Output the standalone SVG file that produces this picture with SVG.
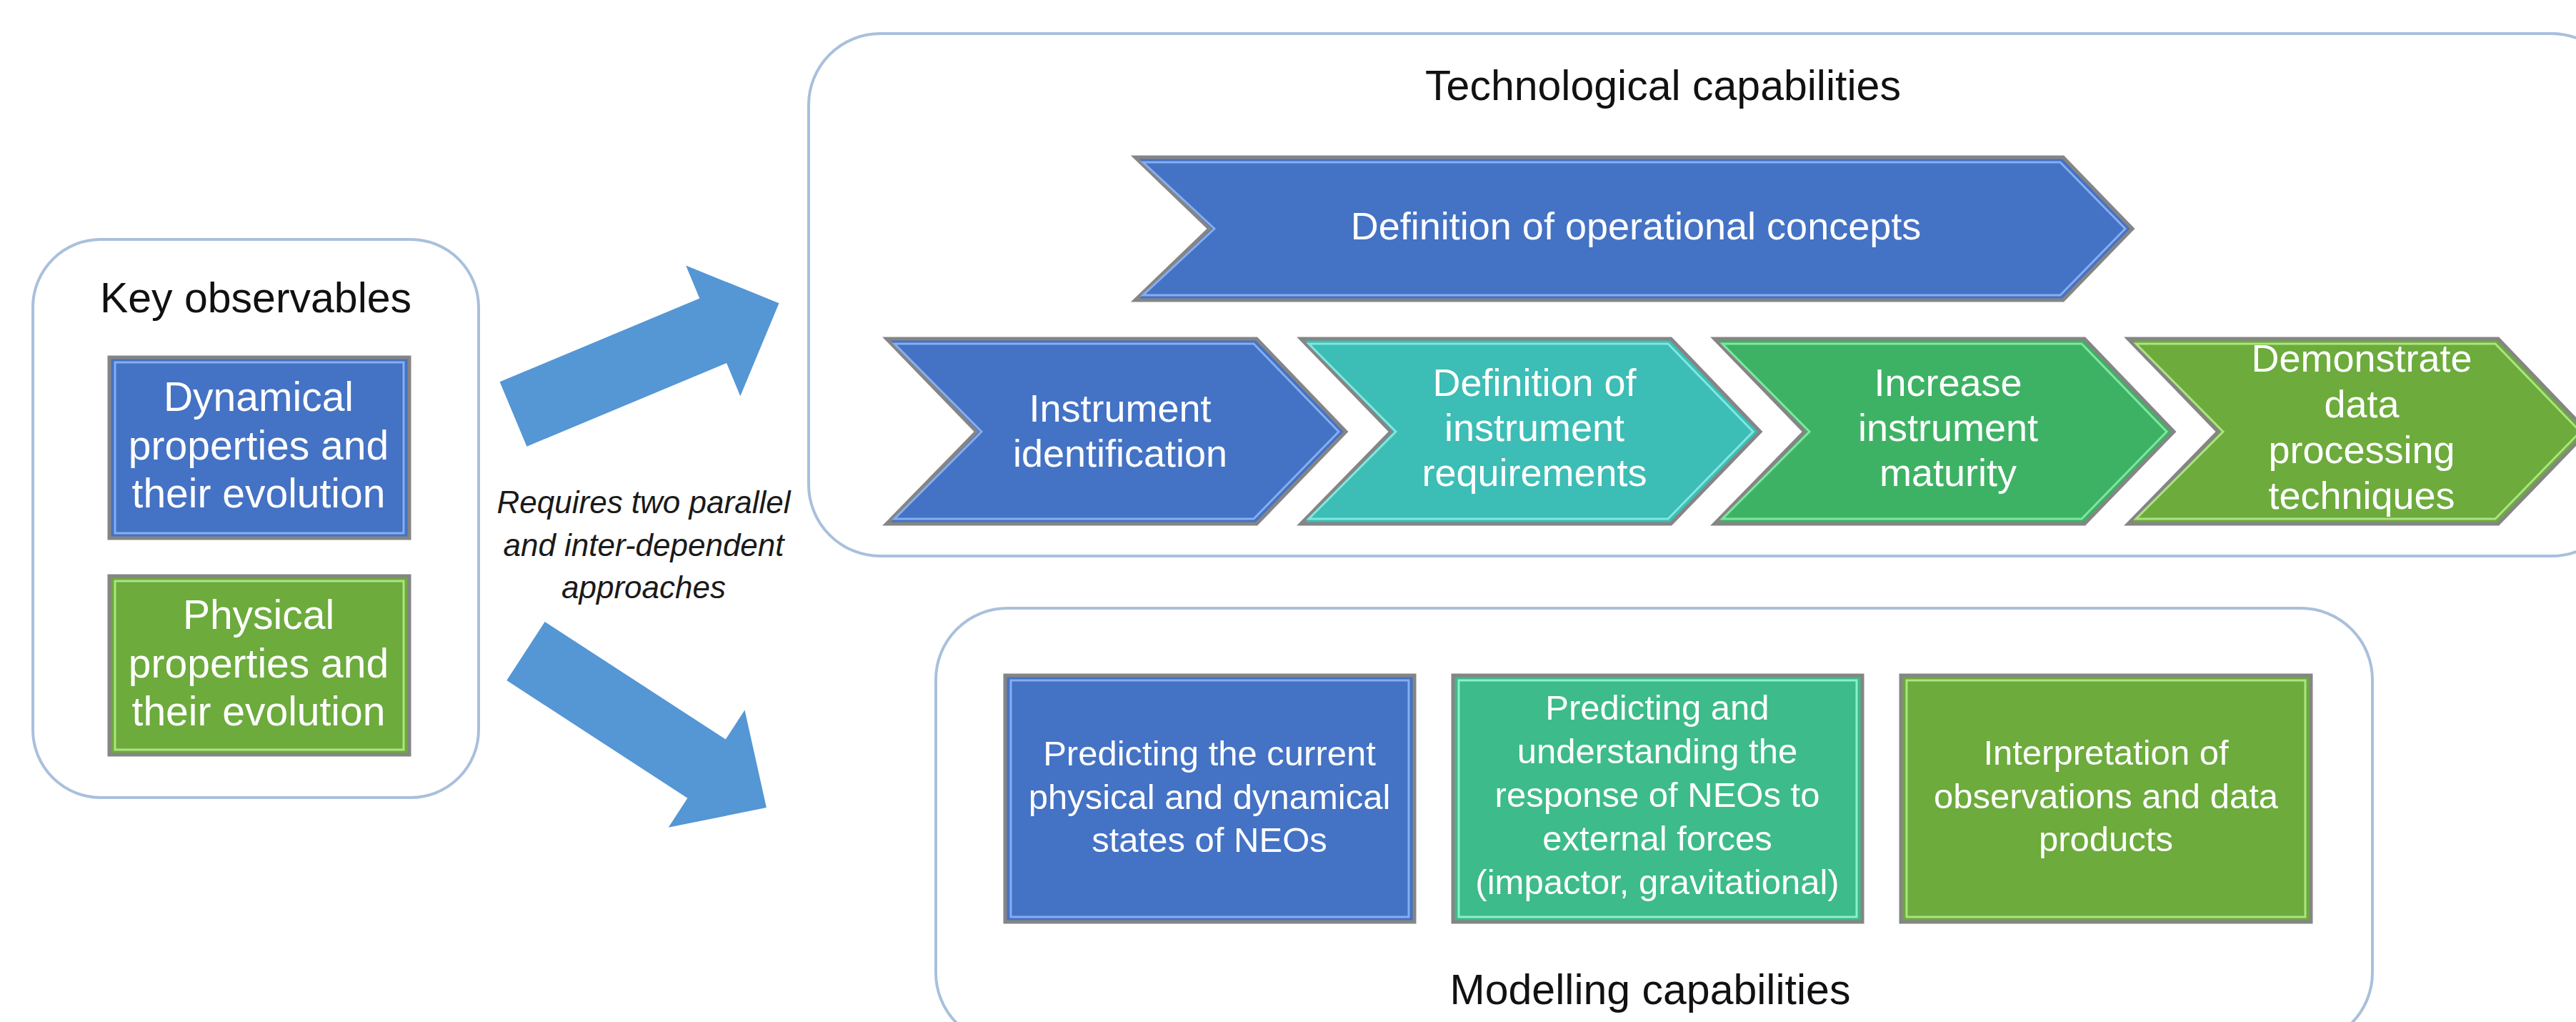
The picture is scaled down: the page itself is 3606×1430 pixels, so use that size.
<svg xmlns="http://www.w3.org/2000/svg" width="3606" height="1430" viewBox="0 0 3606 1430">
<style>
  .frame { fill: #ffffff; stroke: #a9c0dc; stroke-width: 4; }
  .title { font-family: "Liberation Sans", Arial, sans-serif; font-size: 59px; fill: #111111; text-anchor: middle; }
  .lbl { font-family: "Liberation Sans", Arial, sans-serif; fill: #ffffff; text-anchor: middle; }
  .s54 { font-size: 54px; }
  .s57 { font-size: 57px; }
  .s49 { font-size: 49px; }
  .note { font-family: "Liberation Sans", Arial, sans-serif; font-style: italic; font-size: 44px; fill: #1a1a1a; text-anchor: middle; }
  .edge { stroke: #858585; stroke-width: 5; stroke-linejoin: miter; }
  .hl { fill: none; stroke-width: 3; }
  .blue { fill: #4472c4; }
  .teal { fill: #3cbdb5; }
  .green { fill: #3eb264; }
  .olive { fill: #6cab3c; }
  .mint { fill: #3dbb8a; }
  .hl-blue { stroke: #86aef0; }
  .hl-teal { stroke: #80e8e0; }
  .hl-green { stroke: #80e6a2; }
  .hl-olive { stroke: #aee383; }
  .hl-mint { stroke: #8cf0ca; }
  .arrow { fill: #5596d4; }
</style>
<rect width="3606" height="1430" fill="#ffffff"/>

<g id="key-observables">
  <rect class="frame" x="46" y="335" width="624" height="781" rx="95" ry="95"/>
  <text class="title" x="358" y="437">Key observables</text>
  <g id="dynamical">
    <rect class="blue edge" x="153" y="500" width="420" height="253"/>
    <rect class="hl hl-blue" x="161" y="507" width="404" height="239"/>
    <text class="lbl s57"><tspan x="362" y="575">Dynamical</tspan><tspan x="362" y="643">properties and</tspan><tspan x="362" y="710">their evolution</tspan></text>
  </g>
  <g id="physical">
    <rect class="olive edge" x="153" y="806" width="420" height="250"/>
    <rect class="hl hl-olive" x="161" y="813" width="404" height="236"/>
    <text class="lbl s57"><tspan x="362" y="880">Physical</tspan><tspan x="362" y="948">properties and</tspan><tspan x="362" y="1015">their evolution</tspan></text>
  </g>
</g>

<g id="requires-note">
  <text class="note"><tspan x="901" y="718">Requires two parallel</tspan><tspan x="901" y="778">and inter-dependent</tspan><tspan x="901" y="837">approaches</tspan></text>
</g>

<g id="technological-capabilities">
  <rect class="frame" x="1132" y="47" width="2540" height="731" rx="100" ry="100"/>
  <text class="title" x="2328" y="140">Technological capabilities</text>
  <g id="operational-concepts">
    <polygon class="blue edge" points="1589,220 2888,220 2985,320 2888,420 1589,420 1693,320"/>
    <polygon class="hl hl-blue" points="1600,227 2884,227 2975,320 2884,413 1600,413 1700,320"/>
    <text class="lbl s54" x="2290" y="335">Definition of operational concepts</text>
  </g>
  <g id="instrument-identification">
    <polygon class="blue edge" points="1241,474 1759,474 1884,604 1759,733 1241,733 1367,604"/>
    <polygon class="hl hl-blue" points="1252,481 1755,481 1874,604 1755,726 1252,726 1374,604"/>
    <text class="lbl s54"><tspan x="1568" y="590">Instrument</tspan><tspan x="1568" y="653">identification</tspan></text>
  </g>
  <g id="instrument-requirements">
    <polygon class="teal edge" points="1821,474 2339,474 2464,604 2339,733 1821,733 1947,604"/>
    <polygon class="hl hl-teal" points="1832,481 2335,481 2454,604 2335,726 1832,726 1954,604"/>
    <text class="lbl s54"><tspan x="2148" y="554">Definition of</tspan><tspan x="2148" y="617">instrument</tspan><tspan x="2148" y="680">requirements</tspan></text>
  </g>
  <g id="instrument-maturity">
    <polygon class="green edge" points="2400,474 2918,474 3043,604 2918,733 2400,733 2526,604"/>
    <polygon class="hl hl-green" points="2411,481 2914,481 3033,604 2914,726 2411,726 2533,604"/>
    <text class="lbl s54"><tspan x="2727" y="554">Increase</tspan><tspan x="2727" y="617">instrument</tspan><tspan x="2727" y="680">maturity</tspan></text>
  </g>
  <g id="data-processing">
    <polygon class="olive edge" points="2979,474 3497,474 3622,604 3497,733 2979,733 3105,604"/>
    <polygon class="hl hl-olive" points="2990,481 3493,481 3612,604 3493,726 2990,726 3112,604"/>
    <text class="lbl s54"><tspan x="3306" y="520">Demonstrate</tspan><tspan x="3306" y="584">data</tspan><tspan x="3306" y="648">processing</tspan><tspan x="3306" y="712">techniques</tspan></text>
  </g>
</g>

<g id="modelling-capabilities">
  <rect class="frame" x="1310" y="851" width="2011" height="610" rx="100" ry="100"/>
  <text class="title" x="2310" y="1405">Modelling capabilities</text>
  <g id="predicting-states">
    <rect class="blue edge" x="1407" y="945" width="573" height="345"/>
    <rect class="hl hl-blue" x="1415" y="952" width="557" height="331"/>
    <text class="lbl s49"><tspan x="1693" y="1071">Predicting the current</tspan><tspan x="1693" y="1132">physical and dynamical</tspan><tspan x="1693" y="1192">states of NEOs</tspan></text>
  </g>
  <g id="predicting-response">
    <rect class="mint edge" x="2034" y="945" width="573" height="345"/>
    <rect class="hl hl-mint" x="2042" y="952" width="557" height="331"/>
    <text class="lbl s49"><tspan x="2320" y="1007">Predicting and</tspan><tspan x="2320" y="1068">understanding the</tspan><tspan x="2320" y="1129">response of NEOs to</tspan><tspan x="2320" y="1190">external forces</tspan><tspan x="2320" y="1251">(impactor, gravitational)</tspan></text>
  </g>
  <g id="interpretation">
    <rect class="olive edge" x="2661" y="945" width="574" height="345"/>
    <rect class="hl hl-olive" x="2669" y="952" width="558" height="331"/>
    <text class="lbl s49"><tspan x="2948" y="1070">Interpretation of</tspan><tspan x="2948" y="1131">observations and data</tspan><tspan x="2948" y="1191">products</tspan></text>
  </g>
</g>

<g id="connectors">
  <polygon class="arrow" points="699.6,534.3 979.3,417.6 960.1,371.4 1090.5,424.3 1036.3,554.2 1017.1,508 737.4,624.7"/>
  <polygon class="arrow" points="762.7,869.9 1015.8,1034.5 1042.5,993.5 1072.9,1130.1 935.7,1157.7 962.4,1116.7 709.3,952.1"/>
</g>
</svg>
